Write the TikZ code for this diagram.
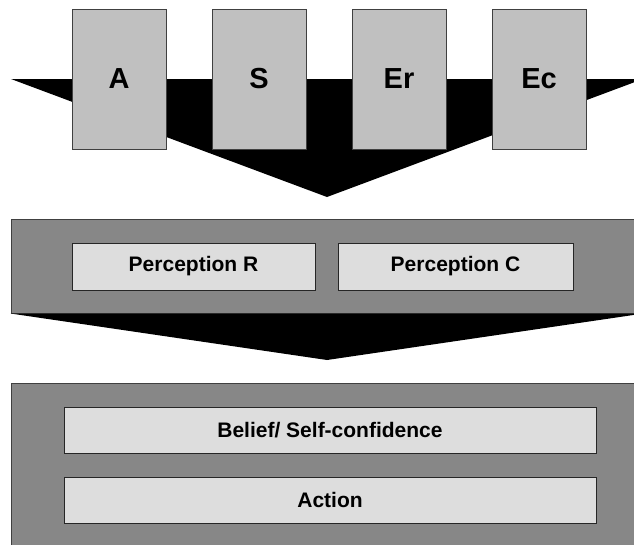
\documentclass[tikz,border=0pt]{standalone}
\usepackage{fontspec}
\setmainfont{Liberation Sans}

\definecolor{boxgray}{RGB}{192,192,192}
\definecolor{panelgray}{RGB}{135,135,135}
\definecolor{itemgray}{RGB}{221,221,221}

\tikzset{
	every factor/.style={draw=black!75, fill=boxgray, line width=1pt, inner sep=0pt,
		minimum width=94pt, minimum height=140pt, font=\fontsize{29}{32}\selectfont\bfseries},
	every panel/.style={draw=black!75, fill=panelgray, line width=1pt, inner sep=0pt},
	every item/.style={draw=black!85, fill=itemgray, line width=1pt, inner sep=0pt,
		minimum height=46pt, font=\fontsize{21}{24}\selectfont\bfseries},
}

\begin{document}
\begin{tikzpicture}[x=1pt, y=-1pt]

		\useasboundingbox (0,0) rectangle (634,544);
		\clip (0,0) rectangle (634,544);

		% top arrow
			\coordinate (top-left) at (11,79);
			\coordinate (top-right) at (643,79);
			\coordinate (top-tip) at (327,197);
			\fill (top-left) -- (top-right) -- (top-tip) -- cycle;

		% factors
			\foreach \m [count=\x] in {A,S,Er,Ec}
			\node [every factor/.try] (factor-\x) at (-21+\x*140,79) {\m};

		% perception panel
			\node [every panel/.try, minimum width=632pt, minimum height=94pt] (perception) at (327,266) {};
			\node [every item/.try, minimum width=243pt, minimum height=47pt] (perception-1) at (193.5,266.5) {Perception R};
			\node [every item/.try, minimum width=235pt, minimum height=47pt] (perception-2) at (455.5,266.5) {Perception C};

		% middle arrow
			\coordinate (mid-tip) at (327,360);
			\fill (perception.south west) -- (perception.south east) -- (mid-tip) -- cycle;

		% outcome panel
			\node [every panel/.try, minimum width=632pt, minimum height=180pt] (outcome) at (327,473) {};
			\foreach \l [count=\y] in {{Belief/ Self-confidence},Action}
			\node [every item/.try, minimum width=532pt] (outcome-\y) at (330,360+\y*70) {\l};

\end{tikzpicture}
\end{document}
